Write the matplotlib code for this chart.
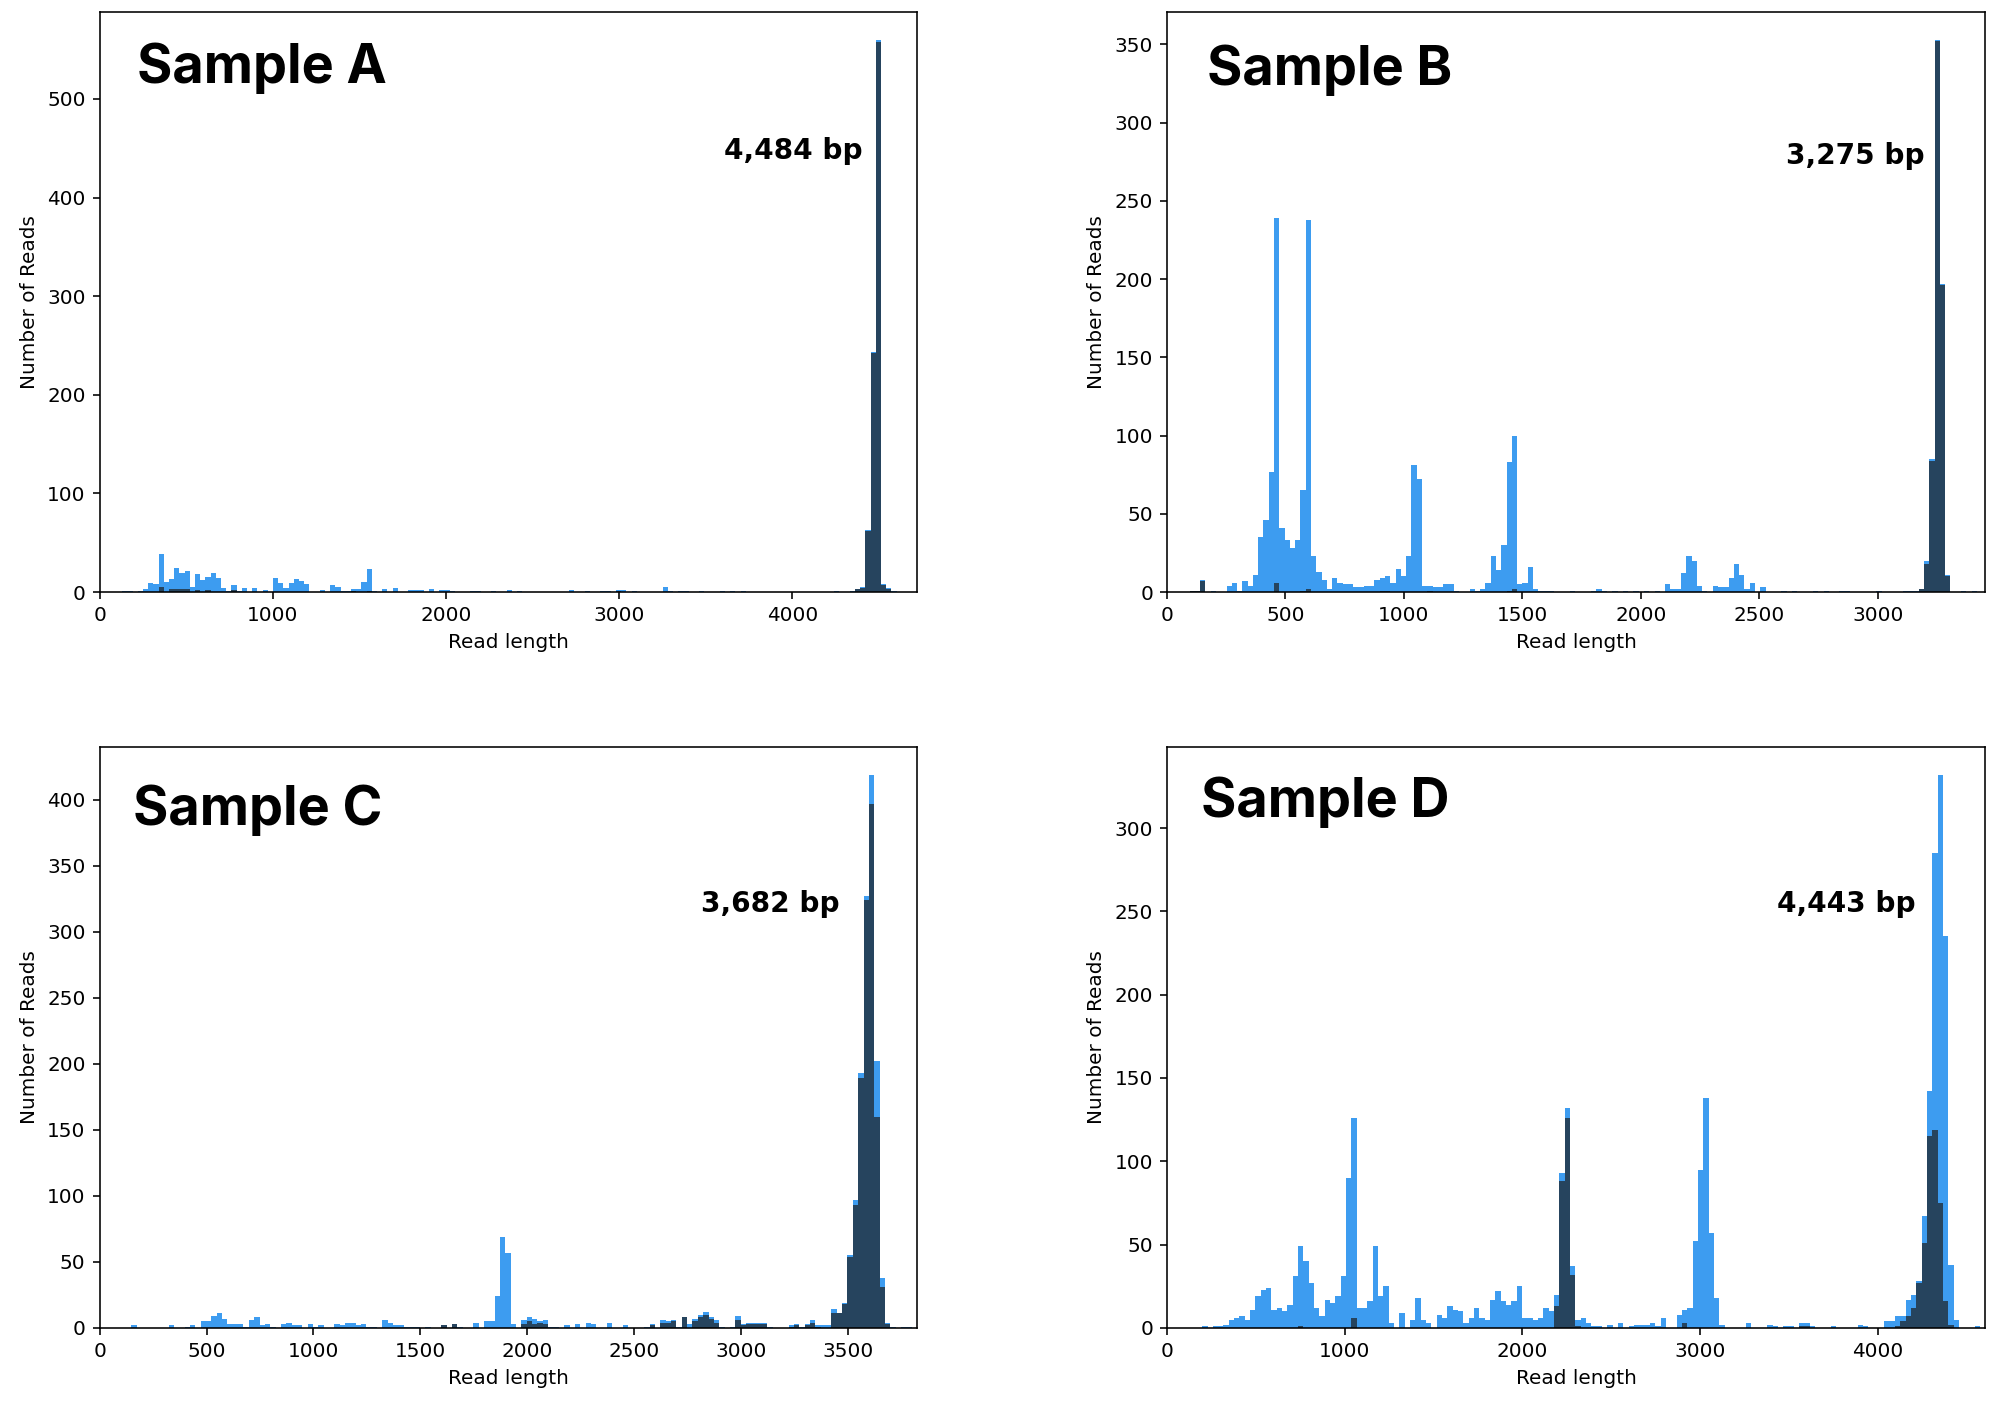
"""Read-length histograms for four samples (all reads vs. full-length reads)."""

import matplotlib

matplotlib.use("Agg")
import matplotlib.pyplot as plt
import numpy as np

BLUE = "#3d9cf0"
DARK = "#26445e"

# ---- Sample A: bins of 30 bp starting at 131 bp ----
a_start, a_width = 131, 30
a_all = [
    1, 1, 0, 1, 3, 9, 8, 39, 10, 13,
    24, 19, 21, 5, 18, 12, 15, 19, 14, 4,
    1, 7, 1, 4, 0, 4, 0, 2, 0, 14,
    9, 4, 9, 13, 11, 8, 0, 0, 2, 0,
    7, 5, 1, 1, 3, 3, 10, 23, 1, 0,
    3, 0, 4, 0, 0, 2, 2, 2, 0, 3,
    0, 2, 2, 1, 0, 0, 0, 1, 1, 0,
    0, 1, 0, 0, 2, 0, 1, 0, 0, 0,
    0, 0, 0, 0, 0, 0, 2, 0, 0, 1,
    0, 0, 1, 1, 0, 2, 2, 0, 1, 0,
    0, 0, 0, 0, 5, 1, 0, 1, 1, 0,
    0, 1, 0, 0, 0, 1, 0, 1, 0, 1,
    0, 0, 0, 0, 0, 0, 0, 0, 0, 0,
    0, 0, 0, 0, 0, 0, 0, 1, 0, 0,
    1, 3, 5, 63, 243, 560, 8, 4, 1, 0,
]
a_full = [
    0, 0, 0, 0, 0, 0, 0, 5, 0, 3,
    3, 3, 3, 0, 2, 0, 2, 0, 0, 0,
    0, 2, 0, 0, 0, 0, 0, 0, 0, 0,
    0, 0, 0, 0, 0, 0, 0, 0, 0, 0,
    0, 0, 0, 0, 1, 0, 0, 1, 0, 0,
    0, 0, 0, 0, 0, 0, 0, 0, 0, 0,
    0, 0, 0, 0, 0, 0, 0, 0, 0, 0,
    0, 0, 0, 0, 0, 0, 0, 0, 0, 0,
    0, 0, 0, 0, 0, 0, 0, 0, 0, 0,
    0, 0, 0, 0, 0, 1, 0, 0, 0, 0,
    0, 0, 0, 0, 0, 0, 0, 0, 0, 0,
    0, 0, 0, 0, 0, 0, 0, 0, 0, 0,
    0, 0, 0, 0, 0, 0, 0, 0, 0, 0,
    0, 0, 0, 0, 0, 0, 0, 0, 0, 0,
    0, 3, 4, 62, 242, 558, 7, 3, 0, 0,
]

# ---- Sample B: bins of 22.3 bp starting at 95 bp ----
b_start, b_width = 95, 22.3
b_all = [
    1, 1, 8, 0, 1, 0, 0, 4, 6, 1,
    7, 4, 11, 35, 46, 77, 239, 41, 33, 28,
    33, 65, 238, 23, 13, 8, 2, 9, 6, 5,
    5, 3, 3, 4, 4, 8, 9, 10, 6, 15,
    10, 23, 81, 72, 4, 4, 3, 3, 5, 5,
    1, 0, 0, 2, 1, 2, 6, 23, 14, 30,
    83, 100, 5, 6, 16, 2, 1, 1, 1, 0,
    0, 0, 1, 0, 0, 0, 1, 2, 1, 0,
    1, 0, 1, 0, 1, 0, 1, 0, 1, 0,
    5, 2, 2, 12, 23, 20, 4, 1, 0, 4,
    3, 3, 9, 18, 11, 2, 6, 0, 3, 0,
    0, 0, 1, 0, 1, 0, 0, 0, 1, 0,
    1, 0, 0, 1, 1, 0, 0, 0, 0, 0,
    1, 0, 0, 0, 0, 1, 1, 1, 2, 20,
    85, 353, 197, 11, 0, 0, 1, 0, 1, 0,
]
b_full = [
    1, 1, 7, 0, 0, 0, 0, 0, 0, 0,
    0, 0, 0, 0, 0, 0, 6, 0, 0, 0,
    0, 1, 2, 0, 0, 0, 0, 0, 0, 0,
    0, 0, 0, 0, 0, 0, 1, 1, 0, 0,
    0, 0, 0, 0, 0, 1, 0, 0, 0, 0,
    0, 0, 0, 0, 0, 0, 0, 0, 0, 0,
    1, 2, 0, 0, 0, 0, 0, 0, 0, 0,
    0, 0, 0, 0, 0, 0, 0, 0, 0, 0,
    0, 0, 0, 0, 0, 0, 0, 0, 0, 0,
    0, 0, 0, 0, 0, 0, 0, 0, 0, 0,
    0, 0, 0, 0, 0, 0, 0, 0, 0, 0,
    0, 0, 0, 0, 0, 0, 0, 0, 0, 0,
    0, 0, 0, 0, 0, 0, 0, 0, 0, 0,
    0, 0, 0, 0, 0, 0, 0, 0, 2, 18,
    84, 352, 196, 10, 0, 0, 0, 0, 0, 0,
]

# ---- Sample C: bins of 25 bp starting at 148 bp ----
c_start, c_width = 148, 25
c_all = [
    2, 0, 0, 0, 0, 0, 0, 2, 0, 0,
    1, 2, 0, 5, 5, 9, 11, 7, 3, 3,
    3, 1, 6, 8, 2, 3, 1, 0, 3, 4,
    2, 2, 0, 3, 1, 2, 0, 0, 3, 2,
    4, 4, 2, 3, 1, 1, 0, 6, 4, 2,
    2, 1, 1, 1, 0, 1, 0, 0, 2, 0,
    3, 1, 0, 0, 4, 0, 5, 5, 24, 69,
    57, 3, 0, 6, 8, 7, 5, 6, 1, 1,
    0, 2, 0, 3, 0, 4, 3, 0, 0, 4,
    0, 0, 2, 0, 0, 0, 1, 3, 0, 6,
    5, 6, 1, 8, 3, 7, 10, 12, 8, 6,
    1, 0, 1, 9, 3, 4, 4, 4, 4, 1,
    0, 0, 0, 2, 3, 1, 3, 6, 2, 2,
    2, 14, 11, 19, 55, 97, 193, 327, 419, 202,
    38, 4, 1, 0, 1, 1, 0,
]
c_full = [
    0, 0, 0, 0, 0, 0, 0, 0, 0, 0,
    0, 0, 0, 0, 0, 0, 0, 0, 0, 0,
    0, 0, 0, 0, 0, 0, 0, 0, 0, 0,
    0, 0, 0, 0, 0, 0, 0, 0, 0, 0,
    0, 0, 0, 0, 0, 0, 0, 0, 0, 0,
    0, 0, 0, 0, 0, 0, 0, 0, 2, 0,
    3, 0, 0, 0, 0, 0, 0, 0, 0, 0,
    0, 0, 0, 3, 5, 3, 4, 3, 0, 0,
    0, 0, 0, 0, 0, 0, 0, 0, 0, 0,
    0, 0, 0, 0, 0, 0, 0, 2, 0, 4,
    4, 5, 0, 8, 0, 5, 8, 10, 7, 4,
    0, 0, 0, 6, 2, 3, 3, 3, 3, 0,
    0, 0, 0, 1, 2, 0, 2, 4, 1, 0,
    0, 11, 11, 18, 54, 93, 189, 324, 397, 160,
    31, 3, 0, 0, 0, 0, 0,
]

# ---- Sample D: bins of 30 bp starting at 198 bp ----
d_start, d_width = 198, 30
d_all = [
    1, 0, 1, 1, 2, 5, 6, 7, 5, 11,
    19, 23, 24, 11, 12, 10, 14, 31, 49, 40,
    27, 12, 7, 17, 15, 19, 31, 90, 126, 12,
    12, 16, 49, 19, 25, 3, 0, 9, 0, 5,
    18, 5, 3, 0, 8, 6, 13, 11, 10, 3,
    6, 12, 6, 5, 17, 22, 16, 14, 16, 25,
    6, 6, 5, 6, 12, 10, 20, 93, 132, 37,
    5, 6, 3, 1, 1, 0, 2, 0, 3, 0,
    1, 2, 2, 2, 3, 1, 6, 0, 0, 8,
    11, 12, 52, 95, 138, 57, 18, 2, 0, 0,
    0, 0, 3, 0, 0, 0, 2, 1, 0, 1,
    1, 0, 3, 3, 1, 0, 0, 0, 1, 0,
    0, 0, 0, 2, 1, 0, 0, 0, 4, 4,
    7, 7, 17, 20, 28, 67, 142, 285, 332, 235,
    38, 5, 0, 0, 0, 1, 0,
]
d_full = [
    0, 0, 0, 0, 0, 0, 0, 0, 0, 0,
    0, 0, 0, 0, 0, 0, 0, 0, 1, 0,
    0, 0, 0, 0, 0, 0, 0, 0, 6, 0,
    0, 0, 0, 0, 0, 0, 0, 0, 0, 0,
    0, 0, 0, 0, 0, 0, 0, 0, 0, 0,
    0, 0, 0, 0, 0, 0, 0, 0, 0, 0,
    0, 0, 0, 0, 0, 0, 13, 88, 126, 32,
    1, 0, 0, 0, 0, 0, 0, 0, 0, 0,
    0, 0, 0, 0, 0, 0, 0, 0, 0, 0,
    3, 0, 0, 0, 0, 0, 0, 0, 0, 0,
    0, 0, 0, 0, 0, 0, 0, 0, 0, 0,
    0, 0, 1, 1, 0, 0, 0, 0, 0, 0,
    0, 0, 0, 0, 0, 0, 0, 0, 0, 0,
    1, 4, 7, 12, 27, 51, 115, 119, 75, 16,
    2, 0, 0, 0, 0, 0, 0,
]

names = ["Sample A", "Sample B", "Sample C", "Sample D"]
peaks = ["4,484 bp", "3,275 bp", "3,682 bp", "4,443 bp"]
x_max = [4720, 3452, 3824, 4604]

panels = [
    (a_start, a_width, a_all, a_full),
    (b_start, b_width, b_all, b_full),
    (c_start, c_width, c_all, c_full),
    (d_start, d_width, d_all, d_full),
]

# axes rectangles in figure fractions (A, B, C, D)
rects = [
    [0.0498, 0.5789, 0.4088, 0.4125],
    [0.5835, 0.5789, 0.4090, 0.4125],
    [0.0498, 0.0555, 0.4088, 0.4132],
    [0.5835, 0.0555, 0.4090, 0.4132],
]
name_pos = [(0.046, 0.877), (0.049, 0.874), (0.041, 0.866), (0.042, 0.880)]
peak_pos = [(0.933, 0.747), (0.926, 0.738), (0.905, 0.716), (0.915, 0.716)]

fig = plt.figure(figsize=(2000 / 144, 1406 / 144), dpi=144)

for i, (start, width, all_counts, full_counts) in enumerate(panels):
    ax = fig.add_axes(rects[i])
    n = len(all_counts)
    edges = start + width * np.arange(n + 1)
    centers = edges[:-1] + width / 2
    ax.hist(centers, bins=edges, weights=all_counts, color=BLUE)
    ax.hist(centers, bins=edges, weights=full_counts, color=DARK)
    ax.set_xlim(0, x_max[i])
    ax.set_xlabel("Read length", fontsize=10)
    ax.set_ylabel("Number of Reads", fontsize=10)
    ax.tick_params(labelsize=10)

    ax.text(*name_pos[i], names[i], transform=ax.transAxes, fontsize=27,
            fontweight="bold", family=["Inter", "DejaVu Sans"], ha="left", va="baseline")
    ax.text(*peak_pos[i], peaks[i], transform=ax.transAxes, fontsize=14,
            fontweight="bold", ha="right", va="baseline")

fig.savefig("out.png", dpi=144)
